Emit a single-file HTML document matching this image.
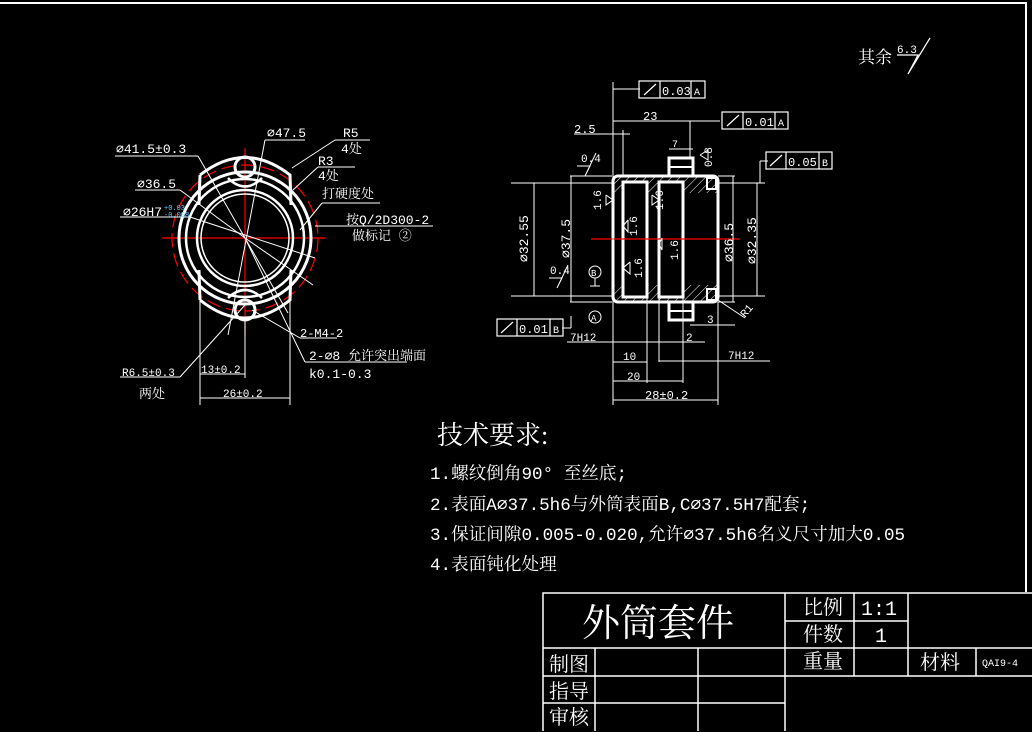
<!DOCTYPE html>
<html><head><meta charset="utf-8"><style>
html,body{margin:0;padding:0;background:#000;}
svg{display:block;}
text{fill:#fff;font-family:"Liberation Mono","Noto Serif CJK SC","Noto Sans CJK SC",monospace;}
.s{font-family:"Liberation Mono","Noto Sans CJK SC",monospace;}
.t{font-family:"Liberation Serif","Noto Serif CJK SC",serif;}
</style></head><body>
<svg width="1032" height="732" viewBox="0 0 1032 732" xmlns="http://www.w3.org/2000/svg">
<rect width="1032" height="732" fill="#000"/>
<!-- frame -->
<polyline points="0,3 1026,3 1026,592" fill="none" stroke="#fff" stroke-width="2"/>
<!-- 其余 -->
<text x="858" y="63" font-size="17" class="t">其余</text>
<text x="897" y="53" font-size="11" class="s">6.3</text>
<polyline points="897,55 918,55 908,74 930,38" fill="none" stroke="#fff" stroke-width="1.2"/>

<!-- LEFT VIEW -->
<g stroke="#fff" fill="none">
<g stroke="#f00" stroke-width="1.2">
<line x1="162" y1="238" x2="326" y2="238"/>
<line x1="245" y1="148" x2="245" y2="335"/>
<circle cx="245" cy="238" r="73" stroke-dasharray="14 6"/>
</g>
<circle cx="245" cy="238" r="66" stroke-width="3"/>
<circle cx="245" cy="238" r="59" stroke-width="2.5"/>
<circle cx="245" cy="238" r="48" stroke-width="2.5"/>
<circle cx="245" cy="238" r="44" stroke-width="1.5"/>
<path d="M200,175 Q245,140 290,175 L291,205 M200,175 L199,205" stroke-width="3"/>
<path d="M200,300 Q245,336 290,300 L291,270 M200,300 L199,270" stroke-width="3"/>
<circle cx="245" cy="167" r="10" stroke-width="3"/>
<circle cx="245" cy="310" r="10" stroke-width="3"/>
<path d="M228,178 Q245,195 262,178" stroke-width="2.5"/>
<path d="M228,298 Q245,282 262,298" stroke-width="2.5"/>
<g stroke-width="1">
<line x1="115" y1="156" x2="198" y2="156"/><line x1="198" y1="156" x2="245" y2="238"/>
<line x1="265" y1="140" x2="305" y2="140"/><line x1="265" y1="140" x2="228" y2="335"/>
<line x1="335" y1="140" x2="370" y2="140"/><line x1="335" y1="140" x2="292" y2="168"/>
<line x1="318" y1="167" x2="355" y2="167"/><line x1="318" y1="167" x2="293" y2="190"/>
<line x1="135" y1="190" x2="180" y2="190"/><line x1="180" y1="190" x2="245" y2="238"/>
<line x1="120" y1="217" x2="190" y2="217"/><line x1="190" y1="217" x2="315" y2="258"/>
<line x1="322" y1="203" x2="380" y2="203"/><line x1="322" y1="203" x2="300" y2="230"/>
<line x1="315" y1="226" x2="433" y2="226"/>
<line x1="245" y1="238" x2="313" y2="285"/>
<line x1="245" y1="238" x2="288" y2="313"/>
<line x1="252" y1="310" x2="300" y2="338"/><line x1="300" y1="338" x2="337" y2="338"/>
<line x1="245" y1="238" x2="305" y2="362"/><line x1="305" y1="362" x2="407" y2="362"/>
<line x1="180" y1="377" x2="245" y2="305"/><line x1="120" y1="377" x2="180" y2="377"/>
<line x1="200" y1="300" x2="200" y2="405"/><line x1="290" y1="300" x2="290" y2="405"/>
<line x1="245" y1="320" x2="245" y2="378"/>
<line x1="200" y1="374" x2="245" y2="374"/>
<line x1="200" y1="398" x2="290" y2="398"/>
</g>
</g>
<g class="s" font-size="13">
<text x="116" y="153">⌀41.5±0.3</text>
<text x="267" y="137">⌀47.5</text>
<text x="343" y="137">R5</text><text x="341" y="153">4处</text>
<text x="318" y="165">R3</text><text x="318" y="180">4处</text>
<text x="322" y="198">打硬度处</text>
<text x="137" y="188">⌀36.5</text>
<text x="123" y="216">⌀26H7</text>
<text x="346" y="224">按Q/2D300-2</text>
<text x="352" y="240">做标记 ②</text>
<text x="300" y="337" font-size="12">2-M4-2</text>
<text x="309" y="360">2-⌀8 允许突出端面</text>
<text x="309" y="378">k0.1-0.3</text>
<text x="122" y="376" font-size="11">R6.5±0.3</text>
<text x="139" y="398">两处</text>
<text x="201" y="373" font-size="11">13±0.2</text>
<text x="223" y="397" font-size="11">26±0.2</text>
</g>
<text x="164" y="210" font-size="7" class="s" style="fill:#6cf">+0.03</text>
<text x="164" y="217" font-size="7" class="s" style="fill:#6cf">-0.008</text>

<!-- MIDDLE VIEW -->
<defs><pattern id="h" width="6" height="6" patternUnits="userSpaceOnUse" patternTransform="rotate(45)"><line x1="0" y1="0" x2="0" y2="6" stroke="#fff" stroke-width="1"/></pattern></defs>
<g stroke="#fff" fill="none">
<rect x="614" y="177" width="104" height="16" fill="url(#h)" stroke="none"/>
<rect x="614" y="285" width="104" height="16" fill="url(#h)" stroke="none"/>
<rect x="613" y="176" width="105" height="126" rx="5" stroke-width="3"/>
<rect x="623" y="182" width="24" height="115" stroke-width="3" fill="#000"/>
<rect x="659" y="182" width="24" height="115" stroke-width="3" fill="#000"/>
<rect x="669" y="158" width="24" height="18" stroke-width="3" fill="#000"/>
<line x1="669" y1="167" x2="693" y2="167" stroke-width="2"/>
<rect x="669" y="302" width="24" height="18" stroke-width="3" fill="#000"/>
<line x1="669" y1="311" x2="693" y2="311" stroke-width="2"/>
<rect x="707" y="178" width="9" height="11" stroke-width="2"/>
<rect x="707" y="289" width="9" height="11" stroke-width="2"/>
<line x1="591" y1="239" x2="740" y2="239" stroke="#f00" stroke-width="1.2"/>
<g stroke-width="1">
<line x1="511" y1="183" x2="612" y2="183"/><line x1="511" y1="296" x2="612" y2="296"/>
<line x1="534" y1="183" x2="534" y2="296"/>
<line x1="570" y1="176" x2="612" y2="176"/><line x1="570" y1="302" x2="612" y2="302"/>
<line x1="571" y1="176" x2="571" y2="302"/>
<line x1="718" y1="183" x2="765" y2="183"/><line x1="718" y1="296" x2="765" y2="296"/>
<line x1="757" y1="183" x2="757" y2="296"/>
<line x1="718" y1="176" x2="735" y2="176"/><line x1="718" y1="302" x2="735" y2="302"/>
<line x1="733" y1="176" x2="733" y2="302"/>
<line x1="613" y1="82" x2="613" y2="405"/><line x1="718" y1="302" x2="718" y2="405"/>
<line x1="613" y1="89" x2="640" y2="89"/>
<line x1="613" y1="121" x2="720" y2="121"/><line x1="690" y1="121" x2="690" y2="158"/>
<line x1="574" y1="134" x2="630" y2="134"/><line x1="623" y1="130" x2="623" y2="176"/>
<line x1="669" y1="149" x2="693" y2="149"/>
<line x1="760" y1="161" x2="760" y2="183"/><line x1="760" y1="161" x2="768" y2="161"/>
<line x1="571" y1="316" x2="571" y2="328"/><line x1="562" y1="328" x2="571" y2="328"/>
<line x1="567" y1="342" x2="705" y2="342"/>
<line x1="613" y1="362" x2="647" y2="362"/><line x1="659" y1="361" x2="770" y2="361"/>
<line x1="613" y1="381" x2="683" y2="381"/>
<line x1="613" y1="400" x2="718" y2="400"/>
<line x1="647" y1="297" x2="647" y2="383"/><line x1="659" y1="297" x2="659" y2="362"/>
<line x1="683" y1="297" x2="683" y2="383"/>
<line x1="690" y1="325" x2="735" y2="325"/>
<line x1="718" y1="300" x2="745" y2="318"/>
<polyline points="577,166 590,166 585,176 596,153"/>
<polyline points="549,278 562,278 557,288 568,265"/>
<polyline points="606,195 606,205 613,200 606,195"/>
<polyline points="652,195 652,205 659,200 652,195"/>
<polyline points="628,220 628,232 623,226 628,220"/>
<polyline points="662,238 662,250 659,244 662,238"/>
<polyline points="630,262 630,274 623,268 630,262"/>
<polyline points="700,155 708,150 708,160 700,155"/>
<circle cx="595" cy="272" r="6"/><circle cx="595" cy="317" r="6"/>
<line x1="595" y1="278" x2="595" y2="286"/><line x1="590" y1="286" x2="600" y2="286"/>
</g>
<g stroke-width="1.2">
<rect x="639" y="81" width="66" height="17"/><line x1="660" y1="81" x2="660" y2="98"/><line x1="691" y1="81" x2="691" y2="98"/><line x1="644" y1="95" x2="656" y2="84"/>
<rect x="722" y="112" width="66" height="17"/><line x1="743" y1="112" x2="743" y2="129"/><line x1="775" y1="112" x2="775" y2="129"/><line x1="727" y1="126" x2="739" y2="115"/>
<rect x="766" y="152" width="66" height="17"/><line x1="786" y1="152" x2="786" y2="169"/><line x1="819" y1="152" x2="819" y2="169"/><line x1="770" y1="166" x2="782" y2="155"/>
<rect x="497" y="319" width="66" height="17"/><line x1="517" y1="319" x2="517" y2="336"/><line x1="550" y1="319" x2="550" y2="336"/><line x1="501" y1="333" x2="513" y2="322"/>
</g>
</g>
<g class="s" font-size="12">
<text x="662" y="95">0.03</text><text x="694" y="95" font-size="10">A</text>
<text x="745" y="126">0.01</text><text x="778" y="126" font-size="10">A</text>
<text x="788" y="166">0.05</text><text x="822" y="166" font-size="10">B</text>
<text x="519" y="333">0.01</text><text x="553" y="333" font-size="10">B</text>
<text x="643" y="120">23</text>
<text x="574" y="133">2.5</text>
<text x="672" y="147" font-size="10">7</text>
<text x="581" y="162" font-size="11">0.4</text>
<text x="550" y="274" font-size="11">0.4</text>
<text x="570" y="341" font-size="11">7H12</text>
<text x="686" y="341" font-size="11">2</text>
<text x="623" y="360" font-size="11">10</text>
<text x="627" y="380" font-size="11">20</text>
<text x="645" y="399">28±0.2</text>
<text x="728" y="359" font-size="11">7H12</text>
<text x="707" y="323" font-size="11">3</text>
<text transform="translate(528,262) rotate(-90)" font-size="13">⌀32.55</text>
<text transform="translate(570,258) rotate(-90)" font-size="13">⌀37.5</text>
<text transform="translate(733,262) rotate(-90)" font-size="13">⌀36.5</text>
<text transform="translate(756,264) rotate(-90)" font-size="13">⌀32.35</text>
<text transform="translate(601,210) rotate(-90)" font-size="11">1.6</text>
<text transform="translate(663,210) rotate(-90)" font-size="11">1.6</text>
<text transform="translate(637,236) rotate(-90)" font-size="11">1.6</text>
<text transform="translate(678,260) rotate(-90)" font-size="11">1.6</text>
<text transform="translate(642,278) rotate(-90)" font-size="11">1.6</text>
<text transform="translate(712,167) rotate(-90)" font-size="11">0.8</text>
<text transform="translate(745,318) rotate(-50)" font-size="11">R1</text>
<text x="591" y="276" font-size="9">B</text><text x="591" y="321" font-size="9">A</text>
</g>

<!-- Technical requirements -->
<text x="437" y="444" font-size="26" class="t">技术要求:</text>
<g font-size="17.6">
<text x="430" y="479">1.螺纹倒角90° 至丝底;</text>
<text x="430" y="510">2.表面A⌀37.5h6与外筒表面B,C⌀37.5H7配套;</text>
<text x="430" y="540">3.保证间隙0.005-0.020,允许⌀37.5h6名义尺寸加大0.05</text>
<text x="430" y="570">4.表面钝化处理</text>
</g>

<!-- Title block -->
<g stroke="#fff" stroke-width="1.5" fill="none">
<polyline points="543,731 543,593 1032,593"/>
<line x1="785" y1="593" x2="785" y2="731"/>
<line x1="854" y1="593" x2="854" y2="676"/>
<line x1="908" y1="593" x2="908" y2="676"/>
<line x1="976" y1="648" x2="976" y2="676"/>
<line x1="785" y1="621" x2="908" y2="621"/>
<line x1="543" y1="648" x2="1032" y2="648"/>
<line x1="543" y1="676" x2="1032" y2="676"/>
<line x1="543" y1="703" x2="785" y2="703"/>
<line x1="595" y1="648" x2="595" y2="731"/>
<line x1="698" y1="648" x2="698" y2="731"/>
</g>
<text x="582" y="636" font-size="38" class="t">外筒套件</text>
<g font-size="20" class="t">
<text x="803" y="614">比例</text><text x="861" y="615">1:1</text>
<text x="803" y="641">件数</text><text x="875" y="642">1</text>
<text x="803" y="668">重量</text><text x="920" y="669">材料</text>
<text x="549" y="671">制图</text>
<text x="549" y="698">指导</text>
<text x="549" y="724">审核</text>
</g>
<text x="982" y="666" font-size="10" class="s">QAI9-4</text>
</svg>
</body></html>
